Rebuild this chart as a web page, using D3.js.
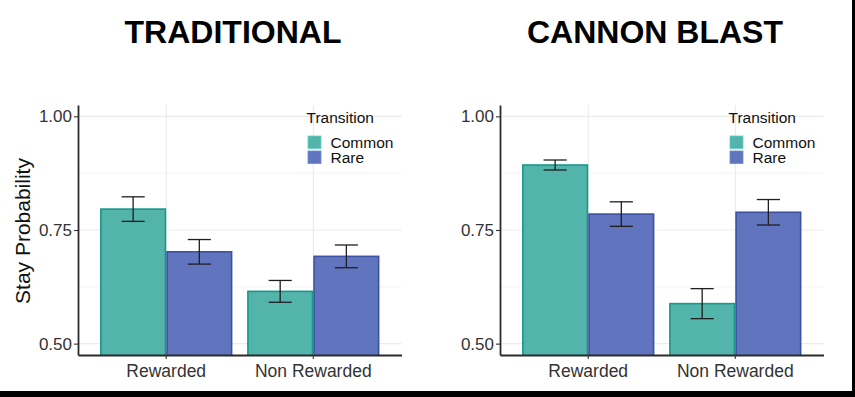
<!DOCTYPE html>
<html>
<head>
<meta charset="utf-8">
<script src="https://cdn.jsdelivr.net/npm/d3@7"></script>
<style>
  body { margin: 0; background: #fff; }
  svg { display: block; font-family: "Liberation Sans", Arial, sans-serif; }
</style>
</head>
<body>
<div id="chart"></div>
<script>
// Données
const outcomes = ["Rewarded", "Non Rewarded"];
const transitions = ["Common", "Rare"];
const panelTitles = ["TRADITIONAL", "CANNON BLAST"];

const traditionalCommon = [0.796, 0.615];
const traditionalRare = [0.702, 0.692];
const traditionalCommonSE = [0.027, 0.024];
const traditionalRareSE = [0.027, 0.025];

const cannonCommon = [0.893, 0.588];
const cannonRare = [0.785, 0.789];
const cannonCommonSE = [0.011, 0.033];
const cannonRareSE = [0.027, 0.028];

const yTicks = [0.5, 0.75, 1.0];
const yMinorTicks = [0.625, 0.875];

// Configuration générale
const width = 855;
const height = 397;
const panelTop = 105;
const panelBottom = 355;
const panelWidth = 323.5;
const panelLefts = [78, 500];

const fills = { Common: "#53b4ab", Rare: "#6075bd" };
const strokes = { Common: "#17988a", Rare: "#3d50a2" };

const svg = d3
  .select("#chart")
  .append("svg")
  .attr("width", width)
  .attr("height", height);

svg.append("rect").attr("width", width).attr("height", height).attr("fill", "#fff");

// construit les lignes d'un panneau
function panelRows(common, rare, commonSE, rareSE) {
  const rows = [];
  outcomes.forEach((o, i) => {
    rows.push({ outcome: o, transition: "Common", value: common[i], se: commonSE[i] });
    rows.push({ outcome: o, transition: "Rare", value: rare[i], se: rareSE[i] });
  });
  return rows;
}

const panels = [
  panelRows(traditionalCommon, traditionalRare, traditionalCommonSE, traditionalRareSE),
  panelRows(cannonCommon, cannonRare, cannonCommonSE, cannonRareSE),
];

const y = d3.scaleLinear().domain([0.475, 1.025]).range([panelBottom, panelTop]);

panels.forEach((rows, p) => {
  const left = panelLefts[p];
  const right = left + panelWidth;
  const g = svg.append("g");

  const x = d3
    .scaleBand()
    .domain(outcomes)
    .range([left, right])
    .paddingInner(0.1)
    .paddingOuter(0.15);

  const xSub = d3.scaleBand().domain(transitions).range([0, x.bandwidth()]);

  // Grille
  g.selectAll(".minor")
    .data(yMinorTicks)
    .enter()
    .append("line")
    .attr("x1", left)
    .attr("x2", right)
    .attr("y1", (d) => y(d))
    .attr("y2", (d) => y(d))
    .attr("stroke", "#f3f3f3")
    .attr("stroke-width", 1);

  g.selectAll(".major")
    .data(yTicks)
    .enter()
    .append("line")
    .attr("x1", left)
    .attr("x2", right)
    .attr("y1", (d) => y(d))
    .attr("y2", (d) => y(d))
    .attr("stroke", "#ebebeb")
    .attr("stroke-width", 1.2);

  g.selectAll(".vgrid")
    .data(outcomes)
    .enter()
    .append("line")
    .attr("x1", (d) => x(d) + x.bandwidth() / 2)
    .attr("x2", (d) => x(d) + x.bandwidth() / 2)
    .attr("y1", panelTop)
    .attr("y2", panelBottom)
    .attr("stroke", "#ebebeb")
    .attr("stroke-width", 1.2);

  // Barres (coupées au bas du panneau)
  const clipId = "clip" + p;
  svg
    .append("clipPath")
    .attr("id", clipId)
    .append("rect")
    .attr("x", left)
    .attr("y", panelTop)
    .attr("width", panelWidth)
    .attr("height", panelBottom - panelTop);

  g.append("g")
    .attr("clip-path", `url(#${clipId})`)
    .selectAll("rect")
    .data(rows)
    .enter()
    .append("rect")
    .attr("x", (d) => x(d.outcome) + xSub(d.transition) + 0.8)
    .attr("width", xSub.bandwidth() - 1.6)
    .attr("y", (d) => y(d.value))
    .attr("height", (d) => panelBottom + 5 - y(d.value))
    .attr("fill", (d) => fills[d.transition])
    .attr("stroke", (d) => strokes[d.transition])
    .attr("stroke-width", 1.6);

  // Barres d'erreur
  const capHalf = xSub.bandwidth() * 0.175;
  const eb = g
    .selectAll(".eb")
    .data(rows)
    .enter()
    .append("g")
    .attr("stroke", "#1f1f1f")
    .attr("stroke-width", 1.3)
    .attr("transform", (d) => `translate(${x(d.outcome) + xSub(d.transition) + xSub.bandwidth() / 2},0)`);

  eb.append("line")
    .attr("y1", (d) => y(d.value - d.se))
    .attr("y2", (d) => y(d.value + d.se));
  eb.append("line")
    .attr("x1", -capHalf)
    .attr("x2", capHalf)
    .attr("y1", (d) => y(d.value + d.se))
    .attr("y2", (d) => y(d.value + d.se));
  eb.append("line")
    .attr("x1", -capHalf)
    .attr("x2", capHalf)
    .attr("y1", (d) => y(d.value - d.se))
    .attr("y2", (d) => y(d.value - d.se));

  // Axes
  const yAxis = g
    .append("g")
    .attr("transform", `translate(${left},0)`)
    .call(d3.axisLeft(y).tickValues(yTicks).tickFormat(d3.format(".2f")).tickSize(4).tickSizeOuter(0).tickPadding(2));

  const xAxis = g
    .append("g")
    .attr("transform", `translate(0,${panelBottom})`)
    .call(d3.axisBottom(x).tickSize(4).tickSizeOuter(0).tickPadding(4));

  [yAxis, xAxis].forEach((a) => {
    a.select(".domain").attr("stroke", "#2b2b2b").attr("stroke-width", 1.8);
    a.selectAll(".tick line").attr("stroke", "#333").attr("stroke-width", 1.1);
    a.selectAll("text").attr("fill", "#333").style("font-family", "Liberation Sans, Arial, sans-serif");
  });
  yAxis.selectAll("text").style("font-size", "17px");
  xAxis.selectAll("text").style("font-size", "17.5px").attr("dy", "0.78em");

  // Titre du panneau
  svg
    .append("text")
    .attr("x", left + 155)
    .attr("y", 43)
    .attr("text-anchor", "middle")
    .style("font-size", "32px")
    .style("font-weight", "bold")
    .attr("fill", "#000")
    .text(panelTitles[p]);

  // Légende
  const lg = g.append("g").attr("transform", `translate(${right - 95},0)`);
  lg.append("text")
    .attr("x", 0)
    .attr("y", 123)
    .style("font-size", "15.5px")
    .attr("fill", "#111")
    .text("Transition");

  const items = lg
    .selectAll(".item")
    .data(transitions)
    .enter()
    .append("g")
    .attr("transform", (d, i) => `translate(0,${136 + i * 15})`);

  items
    .append("rect")
    .attr("x", 1.5)
    .attr("width", 13)
    .attr("height", 12.5)
    .attr("fill", (d) => fills[d])
    .attr("stroke", (d) => d3.color(fills[d]).brighter(0.4))
    .attr("stroke-width", 0.8);

  items
    .append("text")
    .attr("x", 24)
    .attr("y", 11.8)
    .style("font-size", "15.5px")
    .attr("fill", "#111")
    .text((d) => d);
});

// Titre de l'axe Y
svg
  .append("text")
  .attr("transform", `translate(30,231) rotate(-90)`)
  .attr("text-anchor", "middle")
  .style("font-size", "21px")
  .attr("fill", "#111")
  .text("Stay Probability");

// Cadre noir (bord droit et bas)
svg.append("rect").attr("x", 852).attr("y", 0).attr("width", 3).attr("height", height).attr("fill", "#000");
svg.append("rect").attr("x", 0).attr("y", 391).attr("width", width).attr("height", 6).attr("fill", "#000");
</script>
</body>
</html>
